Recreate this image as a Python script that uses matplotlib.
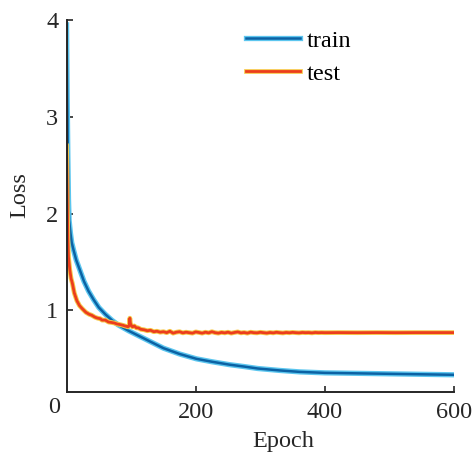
import matplotlib
matplotlib.use("Agg")
import matplotlib.pyplot as plt
import matplotlib.patheffects as pe

plt.rcParams['font.family'] = ['Liberation Serif', 'DejaVu Serif']

# train loss
train_epoch = [0, 1, 2, 3, 4, 6, 8, 11, 15, 21, 27, 34, 42, 50, 60, 70, 80, 96,
               117, 135, 150, 175, 201, 225, 252, 275, 296, 330, 361, 400,
               450, 500, 550, 600]
train_loss = [3.95, 3.2, 2.6, 2.15, 1.93, 1.8, 1.7, 1.62, 1.52, 1.41, 1.3, 1.2,
              1.11, 1.03, 0.96, 0.9, 0.85, 0.79, 0.72, 0.66, 0.61, 0.55, 0.5,
              0.47, 0.44, 0.42, 0.40, 0.38, 0.365, 0.355, 0.35, 0.345, 0.34,
              0.335]

# test loss (noisy plateau)
test_epoch = [0, 1, 2, 3, 5, 7, 9, 12, 16, 20, 24, 30, 35, 39, 44, 48, 52, 55,
              60, 65, 70, 74, 78, 82, 85, 88, 90, 93, 95, 97, 98, 99, 100, 102,
              105, 108, 111, 115, 120, 125, 130, 135, 140, 145, 150, 155, 160,
              165, 170, 175, 180, 185, 190, 195, 200, 205, 210, 215, 220, 225,
              230, 235, 240, 245, 250, 255, 260, 265, 270, 275, 280, 285, 290,
              295, 300, 305, 310, 315, 320, 325, 330, 335, 340, 345, 350, 355,
              360, 365, 370, 375, 380, 385, 390, 395, 400, 420, 450, 480, 510,
              540, 570, 600]
test_loss = [2.7, 2.2, 1.75, 1.55, 1.42, 1.33, 1.28, 1.18, 1.1, 1.05, 1.02, 0.98,
             0.96, 0.95, 0.93, 0.92, 0.915, 0.9, 0.9, 0.88, 0.875, 0.87, 0.86,
             0.855, 0.85, 0.845, 0.84, 0.835, 0.83, 0.84, 0.92, 0.86, 0.85,
             0.83, 0.84, 0.82, 0.82, 0.805, 0.80, 0.79, 0.795, 0.78, 0.785,
             0.775, 0.78, 0.77, 0.785, 0.765, 0.775, 0.78, 0.768, 0.775, 0.77,
             0.765, 0.778, 0.772, 0.765, 0.775, 0.768, 0.78, 0.77, 0.765, 0.773,
             0.768, 0.775, 0.765, 0.772, 0.778, 0.768, 0.772, 0.765, 0.775,
             0.77, 0.768, 0.774, 0.77, 0.766, 0.772, 0.768, 0.774, 0.77, 0.767,
             0.772, 0.769, 0.773, 0.77, 0.768, 0.772, 0.77, 0.771, 0.768, 0.772,
             0.77, 0.771, 0.77, 0.771, 0.77, 0.771, 0.77, 0.771, 0.771, 0.771]

FS = 17.5
INK = '#262626'

fig = plt.figure(figsize=(4.72, 4.55), dpi=100)
ax = fig.add_axes([0.141, 0.138, 0.821, 0.818])

ax.plot(train_epoch, train_loss, color='#0b62a4', lw=1.8, label='train',
        path_effects=[pe.Stroke(linewidth=3.8, foreground='#5cc6ef'), pe.Normal()])
ax.plot(test_epoch, test_loss, color='#ec3d1c', lw=2.0, label='test',
        path_effects=[pe.Stroke(linewidth=3.4, foreground='#f6c84a'), pe.Normal()])

ax.set_xlim(0, 600)
ax.set_ylim(0.155, 4)
ax.set_xticks([200, 400, 600])
ax.set_yticks([1, 2, 3, 4])
ax.tick_params(direction='in', length=4, width=1.2, labelsize=FS,
               color=INK, labelcolor=INK)
ax.tick_params(axis='y', pad=6)
ax.tick_params(axis='x', pad=7)
for s in ['top', 'right']:
    ax.spines[s].set_visible(False)
for s in ['left', 'bottom']:
    ax.spines[s].set_linewidth(1.4)
    ax.spines[s].set_color(INK)

# stray "0" label at the origin
ax.text(-0.016, 0, '0', transform=ax.get_yaxis_transform(), ha='right',
        va='center', fontsize=FS, color=INK, clip_on=False)

ax.set_xlabel('Epoch', fontsize=FS, color=INK)
ax.set_ylabel('Loss', fontsize=FS, color=INK)
ax.xaxis.set_label_coords(0.559, -0.105)
ax.yaxis.set_label_coords(-0.093, 0.53)

ax.legend(loc='upper left', bbox_to_anchor=(0.42, 1.02), frameon=False,
          fontsize=FS, handlelength=2.2, handletextpad=0.3, labelspacing=0.45,
          borderpad=0.2)

fig.savefig('out.png', dpi=100)
